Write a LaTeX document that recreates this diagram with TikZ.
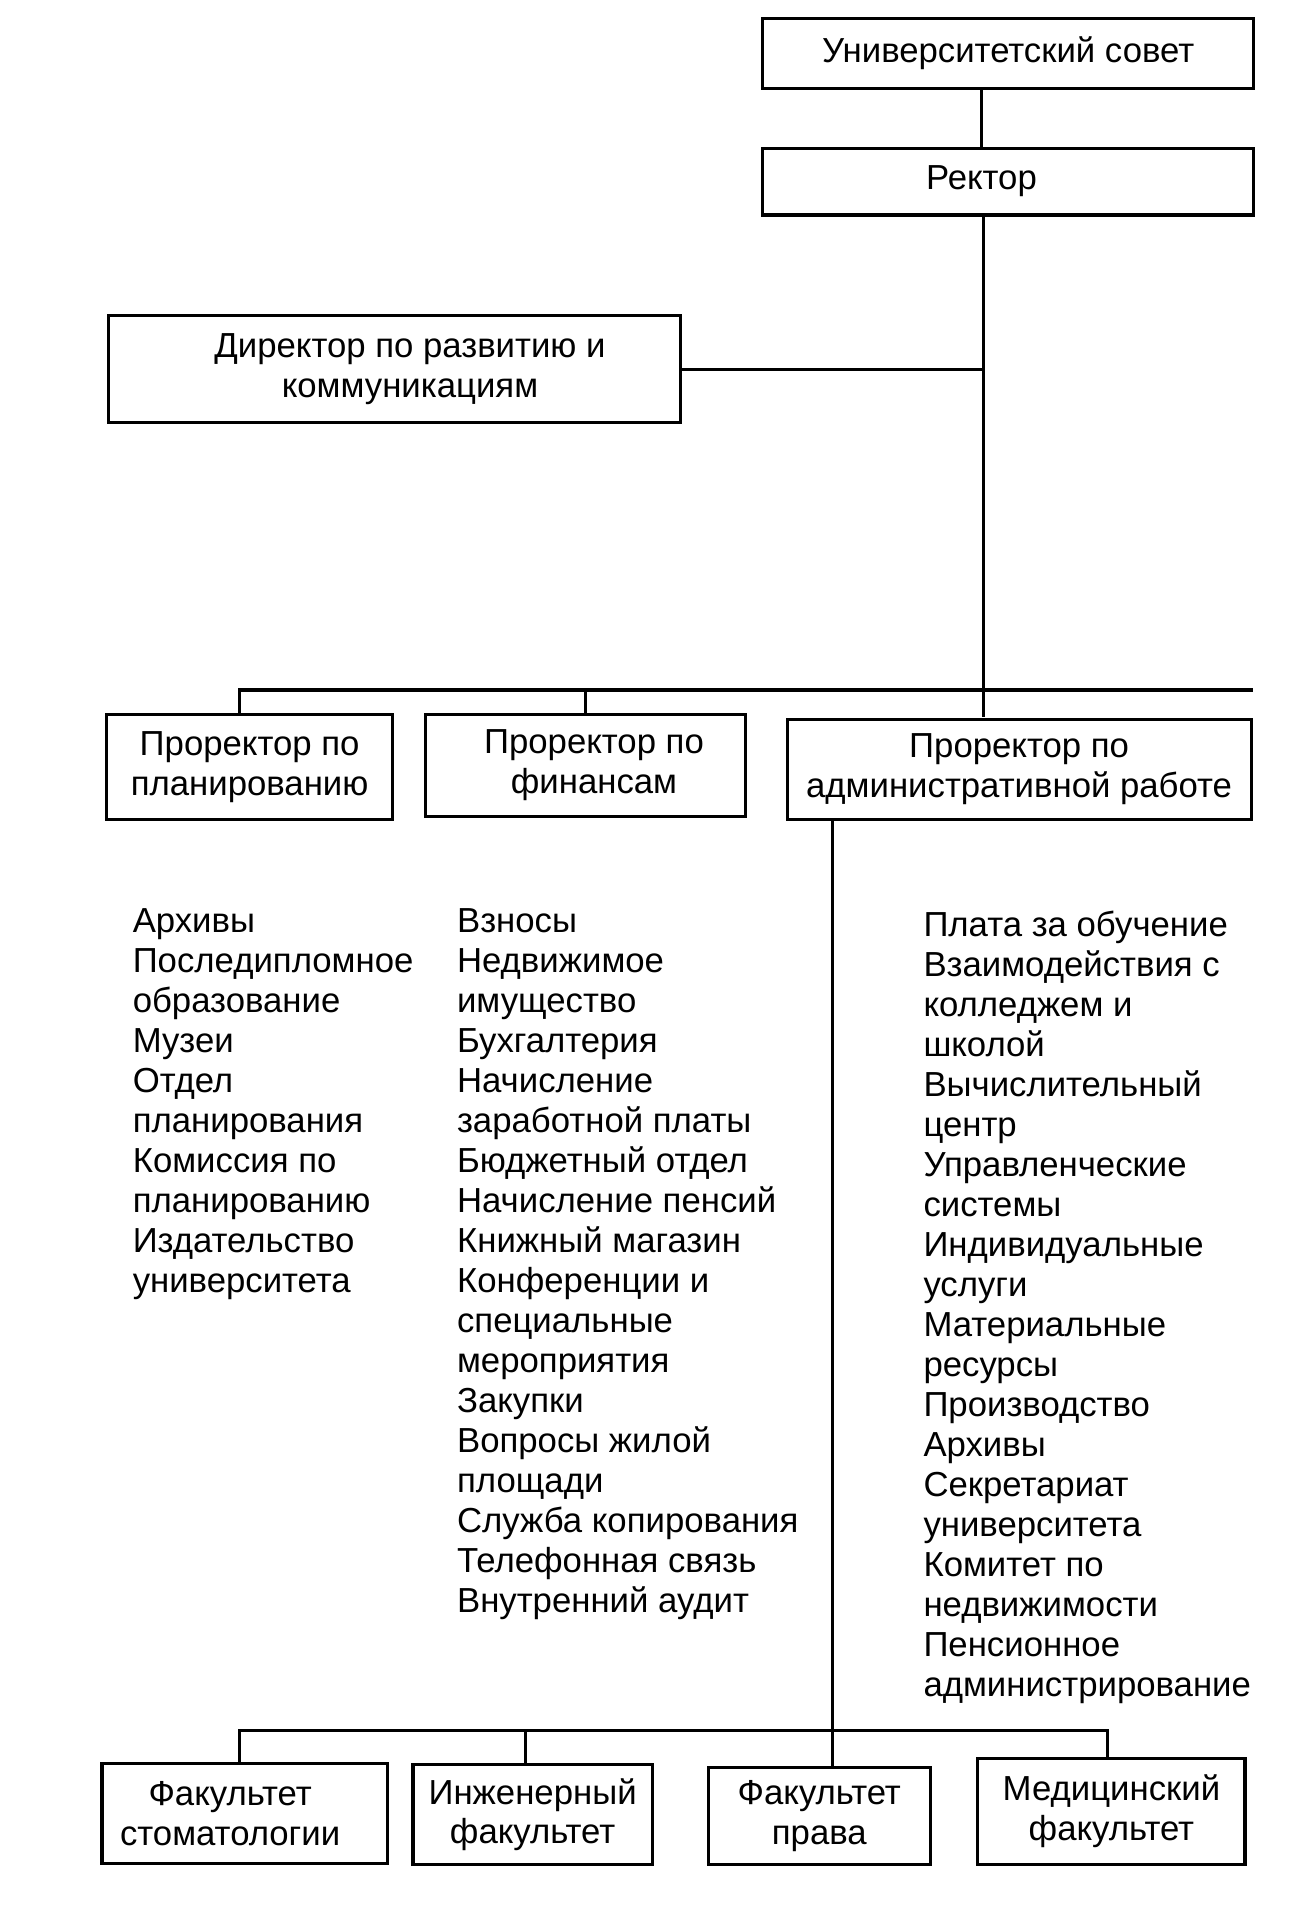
\documentclass[tikz,border=0pt]{standalone}
\usepackage{fontspec}
\setmainfont{Liberation Sans}

\tikzset{
  unit/.style = {draw = black, line width = 2.6pt, align = center, inner sep = 0pt},
  items/.style = {anchor = north west, align = left, inner sep = 0pt},
}

\begin{document}
\begin{tikzpicture}[x = 1pt, y = -1pt, line width = 2.6pt, font = \fontsize{28.6}{32.9}\selectfont]
\useasboundingbox (0, 0) rectangle (1077, 1570);

\node [unit, minimum width = 404pt, minimum height = 58pt] (box0) at (830, 44) {Университетский совет};
\node [unit, minimum width = 404pt, minimum height = 55pt] (box1) at (830, 149.5) {Ректор\hspace*{44pt}};
\path [draw] ([xshift = -22pt]box0.south) -- ([xshift = -22pt]box1.north);

\node [unit, minimum width = 471pt, minimum height = 88pt] (dir) at (324.5, 304) {\hspace*{26pt}Директор по развитию и\\\hspace*{26pt}коммуникациям};

\node [unit, minimum width = 235pt, minimum height = 87pt] (vp0) at (205.5, 631.5) {Проректор по\\планированию};
\node [unit, minimum width = 264pt, minimum height = 84pt] (vp1) at (482, 630) {\hspace*{14pt}Проректор по\\\hspace*{14pt}финансам};
\node [unit, minimum width = 382pt, minimum height = 83pt] (vp2) at (839, 633.5) {Проректор по\\административной работе};

\coordinate (spine) at ([xshift = -20pt]box1.south);
\coordinate (bus0) at (0, 568);
\path [draw] (spine) -- (spine |- vp2.north);
\path [draw] (dir.east) -- (dir.east -| spine);
\path [draw] ([xshift = -8pt]vp0.north) -- ([xshift = -8pt]vp0.north |- bus0) -- (vp2.east |- bus0);
\path [draw] (vp1.north) -- (vp1.north |- bus0);

\node [items] (list0) at (108, 747) {Архивы\\Последипломное\\образование\\Музеи\\Отдел\\планирования\\Комиссия по\\планированию\\Издательство\\университета};
\node [items] (list1) at (375, 747) {Взносы\\Недвижимое\\имущество\\Бухгалтерия\\Начисление\\заработной платы\\Бюджетный отдел\\Начисление пенсий\\Книжный магазин\\Конференции и\\специальные\\мероприятия\\Закупки\\Вопросы жилой\\площади\\Служба копирования\\Телефонная связь\\Внутренний аудит};
\node [items] (list2) at (759, 749) {Плата за обучение\\Взаимодействия с\\колледжем и\\школой\\Вычислительный\\центр\\Управленческие\\системы\\Индивидуальные\\услуги\\Материальные\\ресурсы\\Производство\\Архивы\\Секретариат\\университета\\Комитет по\\недвижимости\\Пенсионное\\администрирование};

\node [unit, minimum width = 235pt, minimum height = 82pt] (fac0) at (201.5, 1493) {Факультет\hspace*{24pt}\\стоматологии\hspace*{24pt}};
\node [unit, minimum width = 197pt, minimum height = 82pt] (fac1) at (438.5, 1494) {Инженерный\\факультет};
\node [unit, minimum width = 183pt, minimum height = 80pt] (fac2) at (674.5, 1495) {Факультет\\права};
\node [unit, minimum width = 220pt, minimum height = 87pt] (fac3) at (915, 1491.5) {Медицинский\\факультет};

\coordinate (bus1) at (0, 1425);
\path [draw] ([xshift = 11pt]fac2.north |- vp2.south) -- ([xshift = 11pt]fac2.north);
\path [draw] ([xshift = -4pt]fac0.north) |- ([xshift = -3pt]fac3.north |- bus1) -- ([xshift = -3pt]fac3.north);
\path [draw] ([xshift = -6pt]fac1.north) -- ([xshift = -6pt]fac1.north |- bus1);

\end{tikzpicture}
\end{document}
